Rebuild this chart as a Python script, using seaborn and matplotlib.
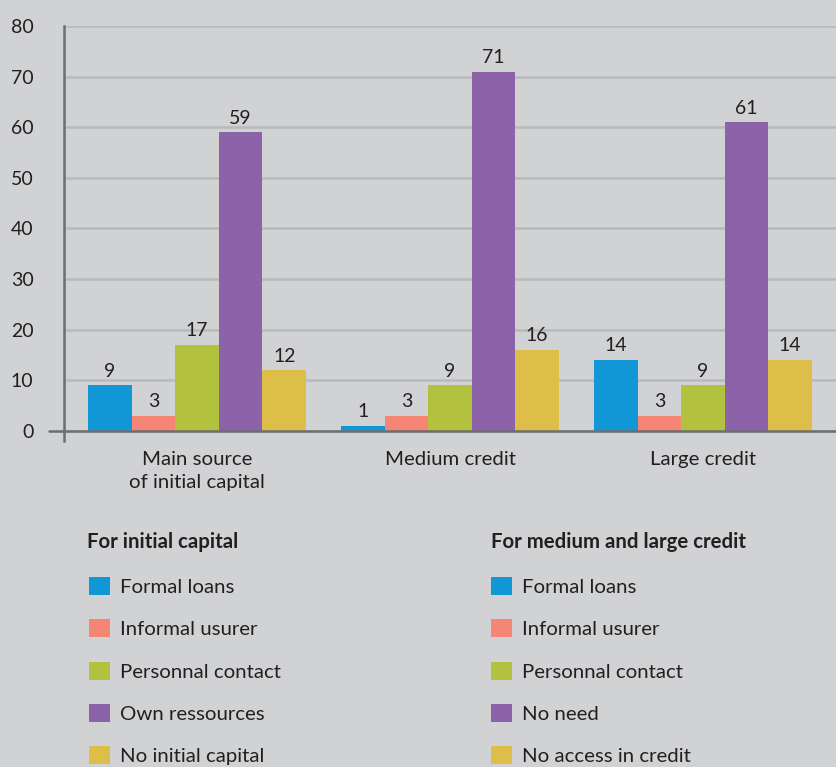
import matplotlib
matplotlib.use("Agg")
import matplotlib.pyplot as plt
from matplotlib.patches import Patch
import seaborn as sns
import pandas as pd

categories = ["Main source\nof initial capital", "Medium credit", "Large credit"]
series = ["S1", "S2", "S3", "S4", "S5"]
formal_loans = [9, 1, 14]
informal_usurer = [3, 3, 3]
personal_contact = [17, 9, 9]
own_or_no_need = [59, 71, 61]
no_capital_or_access = [12, 16, 14]
colors = ["#1197d6", "#f58675", "#b2c23f", "#8c62a9", "#dcbe48"]
legend_left_title = "For initial capital"
legend_left = ["Formal loans", "Informal usurer", "Personnal contact", "Own ressources", "No initial capital"]
legend_right_title = "For medium and large credit"
legend_right = ["Formal loans", "Informal usurer", "Personnal contact", "No need", "No access in credit"]
yticks = [0, 10, 20, 30, 40, 50, 60, 70, 80]

values = [formal_loans, informal_usurer, personal_contact, own_or_no_need, no_capital_or_access]
rows = []
for s, vals in zip(series, values):
    for c, v in zip(categories, vals):
        rows.append({"category": c, "series": s, "value": v})
df = pd.DataFrame(rows)

bg = "#d1d2d4"
grid_c = "#b9babc"
axis_c = "#6d6e70"
text_c = "#231f20"
FS = 14.7
NS = 14

sns.set_theme(style="white")
plt.rcParams["font.family"] = ["Lato", "DejaVu Sans"]

W, H = 836, 767
fig = plt.figure(figsize=(W / 100, H / 100), dpi=100, facecolor=bg)
ax = fig.add_axes([64 / W, 1 - 441 / H, 1 - 64 / W, (441 - 26) / H])
ax.set_facecolor(bg)

sns.barplot(data=df, x="category", y="value", hue="series", hue_order=series,
            order=categories, palette=colors, width=0.862, saturation=1,
            linewidth=0, ax=ax, legend=False, errorbar=None)

for cont in ax.containers:
    ax.bar_label(cont, padding=4, fontsize=NS, color=text_c)

ax.set_xlim(-0.526, 2.526)
ax.set_ylim(-2, 80)
ax.set_yticks(yticks)
ax.set_xlabel("")
ax.set_ylabel("")
ax.yaxis.grid(True, color=grid_c, linewidth=1.8, zorder=0)
ax.set_axisbelow(True)
for s in ["top", "right", "bottom"]:
    ax.spines[s].set_visible(False)
ax.spines["left"].set_color(axis_c)
ax.spines["left"].set_linewidth(1.8)
ax.tick_params(axis="y", length=11, width=1.8, color=grid_c, pad=11,
               labelsize=NS, labelcolor=text_c)
ax.tick_params(axis="x", length=0, pad=7, labelsize=FS, labelcolor=text_c)
for lab in ax.get_xticklabels():
    lab.set_linespacing(1.45)
ax.axhline(0, xmin=-15 / (W - 64), xmax=1, color=axis_c, linewidth=1.8,
           clip_on=False, zorder=3)

handles = [Patch(facecolor=c, edgecolor="none") for c in colors]
fig.text(87 / W, 1 - 542 / H, legend_left_title, fontsize=FS, fontweight="bold",
         color=text_c, va="center", ha="left")
fig.text(491 / W, 1 - 542 / H, legend_right_title, fontsize=FS, fontweight="bold",
         color=text_c, va="center", ha="left")
for x0, labels in [(89, legend_left), (491, legend_right)]:
    fig.legend(handles, labels, loc="upper left",
               bbox_to_anchor=(x0 / W, 1 - 577 / H), frameon=False,
               fontsize=FS, labelcolor=text_c, handlelength=1.03,
               handleheight=0.98, handletextpad=0.5, labelspacing=1.14,
               borderpad=0, borderaxespad=0)

fig.savefig("out.png", dpi=100, facecolor=bg)
